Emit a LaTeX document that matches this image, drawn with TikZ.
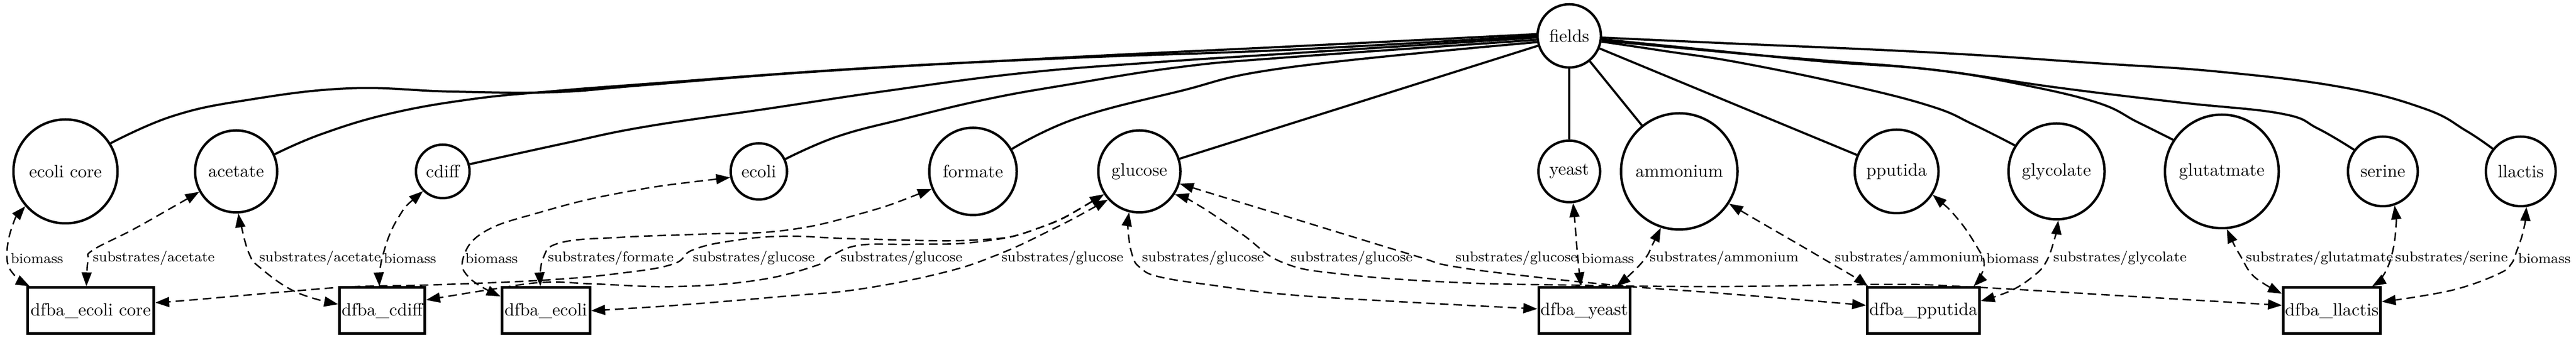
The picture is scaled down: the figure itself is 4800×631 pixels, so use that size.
\documentclass[tikz,border=0pt]{standalone}
\usetikzlibrary{arrows.meta}
\begin{document}
\begin{tikzpicture}[x=0.3pt,y=-0.3pt,
  field/.style={draw,circle,line width=1.35pt,inner sep=0pt},
  model/.style={draw,rectangle,line width=1.5pt,inner sep=1pt,minimum height=25.8pt},
  wire/.style={line width=1.2pt},
  link/.style={line width=.8pt,dash pattern=on 4.8pt off 2.8pt,{Triangle[length=7.8pt,width=5.6pt]}-{Triangle[length=7.8pt,width=5.6pt]}},
  lbl/.style={anchor=west,font=\footnotesize,inner sep=1pt}]
\useasboundingbox (0,0) rectangle (4800,631);
\node[field,minimum size=35.4pt] (fields) at (2924,67) {fields};
\node[field,minimum size=58.2pt] (core) at (122,320) {ecoli core};
\node[field,minimum size=45.9pt] (acetate) at (440,320) {acetate};
\node[field,minimum size=30pt] (cdiff) at (825,320) {cdiff};
\node[field,minimum size=31.5pt] (ecoli) at (1414,320) {ecoli};
\node[field,minimum size=48.9pt] (formate) at (1813,320) {formate};
\node[field,minimum size=45.9pt] (glucose) at (2123,320) {glucose};
\node[field,minimum size=34.5pt] (yeast) at (2924,320) {yeast};
\node[field,minimum size=65.1pt] (ammonium) at (3129,320) {ammonium};
\node[field,minimum size=46.8pt] (pputida) at (3534,320) {pputida};
\node[field,minimum size=53.7pt] (glycolate) at (3832,320) {glycolate};
\node[field,minimum size=63.6pt] (glutatmate) at (4140,320) {glutatmate};
\node[field,minimum size=39pt] (serine) at (4440,320) {serine};
\node[field,minimum size=39pt] (llactis) at (4697,320) {llactis};
\node[model,minimum width=70.7pt] (d-core) at (169,580) {dfba\_ecoli core};
\node[model,minimum width=47.7pt] (d-cdiff) at (712,580) {dfba\_cdiff};
\node[model,minimum width=49.2pt] (d-ecoli) at (1017,580) {dfba\_ecoli};
\node[model,minimum width=51pt] (d-yeast) at (2952,580) {dfba\_yeast};
\node[model,minimum width=60.8pt] (d-pputida) at (3584,580) {dfba\_pputida};
\node[model,minimum width=54.3pt] (d-llactis) at (4345,580) {dfba\_llactis};
\node[lbl] (bm-core) at (16,482) {biomass};
\node[lbl] (ac-core) at (169,482) {substrates/acetate};
\node[lbl] (ac-cdiff) at (479,482) {substrates/acetate};
\node[lbl] (bm-cdiff) at (711,482) {biomass};
\node[lbl] (bm-ecoli) at (863,482) {biomass};
\node[lbl] (fo-ecoli) at (1017,482) {substrates/formate};
\node[lbl] (gl-core) at (1287,482) {substrates/glucose};
\node[lbl] (gl-cdiff) at (1562,482) {substrates/glucose};
\node[lbl] (gl-ecoli) at (1862,482) {substrates/glucose};
\node[lbl] (gl-yeast) at (2124,482) {substrates/glucose};
\node[lbl] (gl-llactis) at (2401,482) {substrates/glucose};
\node[lbl] (gl-pputida) at (2708,482) {substrates/glucose};
\node[lbl] (bm-yeast) at (2943,482) {biomass};
\node[lbl] (am-yeast) at (3070,482) {substrates/ammonium};
\node[lbl] (am-pputida) at (3415,482) {substrates/ammonium};
\node[lbl] (bm-pputida) at (3697,482) {biomass};
\node[lbl] (gc-pputida) at (3822,482) {substrates/glycolate};
\node[lbl] (gt-llactis) at (4181,482) {substrates/glutatmate};
\node[lbl] (se-llactis) at (4459,482) {substrates/serine};
\node[lbl] (bm-llactis) at (4688,482) {biomass};
\draw[wire] plot[smooth, tension=.7] coordinates {(core.32) (321,217) (459,187) (650,165) (842,171) (1033,172) (1200,159) (1531,133) (1990,107) (2400,87) (fields.177)};
\draw[wire] plot[smooth, tension=.7] coordinates {(acetate.24) (600,250) (727,212) (880,185) (1033,170) (1200,157) (1600,128) (2000,108) (2400,93) (fields.180)};
\draw[wire] plot[smooth, tension=.7] coordinates {(cdiff.15) (1050,268) (1200,237) (1430,203) (1650,170) (1900,137) (2143,117) (2400,100) (fields.183)};
\draw[wire] plot[smooth, tension=.7] coordinates {(ecoli.25) (1560,255) (1684,222) (1840,185) (1990,158) (2200,125) (2400,107) (fields.187)};
\draw[wire] plot[smooth, tension=.7] coordinates {(formate.30) (2003,222) (2195,171) (2400,126) (fields.191)};
\draw[wire] (fields) -- (glucose);
\draw[wire] (fields) -- (yeast);
\draw[wire] (fields) -- (ammonium);
\draw[wire] (fields) -- (pputida);
\draw[wire] plot[smooth, tension=.7] coordinates {(fields.-10) (3100,95) (3242,117) (3450,160) (3600,199) (3676,232) (glycolate.148)};
\draw[wire] plot[smooth, tension=.7] coordinates {(fields.-8) (3242,100) (3400,113) (3600,130) (3753,155) (3906,191) (3983,228) (glutatmate.147)};
\draw[wire] plot[smooth, tension=.7] coordinates {(fields.-6) (3200,95) (3400,115) (3600,130) (3830,163) (4059,191) (4250,212) (4319,240) (serine.143)};
\draw[wire] plot[smooth, tension=.7] coordinates {(fields.-3) (3200,80) (3600,98) (3906,118) (4136,134) (4365,163) (4518,203) (4595,244) (llactis.141)};
\draw[link] plot[smooth, tension=.7] coordinates {(core.221) (22,425) (13,482) (27,514) ([xshift=2pt]d-core.north west)};
\draw[link] plot[smooth, tension=.7] coordinates {(acetate.209) (316,390) (245,430) (173,467) (164,486) ([xshift=-2.4pt]d-core.north)};
\draw[link] plot[smooth, tension=.7] coordinates {(acetate.-87) (449,420) (464,473) (485,500) (551,545) ([yshift=3.6pt]d-cdiff.west)};
\draw[link] plot[smooth, tension=.7] coordinates {(cdiff.225) (740,410) (712,482) ([xshift=-1.5pt]d-cdiff.north)};
\draw[link] plot[smooth, tension=.7] coordinates {(ecoli.192) (1157,360) (1004,397) (902,433) (863,482) (876,520) ([yshift=8pt]d-ecoli.west)};
\draw[link] plot[smooth, tension=.7] coordinates {(formate.203) (1600,400) (1463,430) (1310,437) (1157,443) (1045,453) (1012,482) ([xshift=-3pt]d-ecoli.north)};
\draw[link] plot[smooth, tension=.7] coordinates {(glucose.213) (1932,427) (1819,448) (1600,446) (1463,441) (1361,450) (1290,467) (1254,493) (1157,510) (1014,523) (800,532) (663,535) (551,543) (357,560) ([yshift=4.5pt]d-core.east)};
\draw[link] plot[smooth, tension=.7] coordinates {(glucose.213) (1932,427) (1819,452) (1700,456) (1600,458) (1545,480) (1520,496) (1412,523) (1259,535) (1106,530) (1014,527) (917,540) ([yshift=6pt]d-cdiff.east)};
\draw[link] plot[smooth, tension=.7] coordinates {(glucose.222) (1957,430) (1855,477) (1753,510) (1600,540) (1463,553) (1259,570) (d-ecoli.east)};
\draw[link] plot[smooth, tension=.7] coordinates {(glucose.-104) (2102,430) (2110,477) (2125,500) (2161,517) (2263,533) (2400,550) (2604,563) ([yshift=1pt]d-yeast.west)};
\draw[link] plot[smooth, tension=.7] coordinates {(glucose.-33) (2233,383) (2314,437) (2390,490) (2502,512) (2706,527) (2910,532) (3200,535) (3506,531) (3659,535) (4000,555) ([yshift=3pt]d-llactis.west)};
\draw[link] plot[smooth, tension=.7] coordinates {(glucose.-17) (2263,363) (2400,405) (2635,477) (2706,497) (2859,517) (3038,535) (3200,547) ([yshift=3pt]d-pputida.west)};
\draw[link] plot[smooth, tension=.7] coordinates {(yeast.-83) (2935,420) (2940,482) ([xshift=-1.8pt]d-yeast.north)};
\draw[link] plot[smooth, tension=.7] coordinates {(ammonium.-108) (3080,455) (3066,482) (3038,512) ([xshift=18pt]d-yeast.north)};
\draw[link] plot[smooth, tension=.7] coordinates {(ammonium.-33) (3277,413) (3353,457) (3404,487) (3455,517) ([xshift=1pt]d-pputida.north west)};
\draw[link] plot[smooth, tension=.7] coordinates {(pputida.-33) (3649,410) (3685,463) (3697,490) (3690,517) ([xshift=-4pt]d-pputida.north east)};
\draw[link] plot[smooth, tension=.7] coordinates {(glycolate.-88) (3828,447) (3812,490) (3787,517) (3746,543) ([yshift=5.4pt]d-pputida.east)};
\draw[link] plot[smooth, tension=.7] coordinates {(glutatmate.-85) (4163,457) (4176,480) (4194,510) (4219,530) ([yshift=9.5pt]d-llactis.west)};
\draw[link] plot[smooth, tension=.7] coordinates {(serine.-71) (4464,430) (4455,482) (4439,517) ([xshift=-5.4pt]d-llactis.north east)};
\draw[link] plot[smooth, tension=.7] coordinates {(llactis.-81) (4702,430) (4689,470) (4679,493) (4658,510) (4587,537) (4510,553) ([yshift=5pt]d-llactis.east)};
\end{tikzpicture}
\end{document}
